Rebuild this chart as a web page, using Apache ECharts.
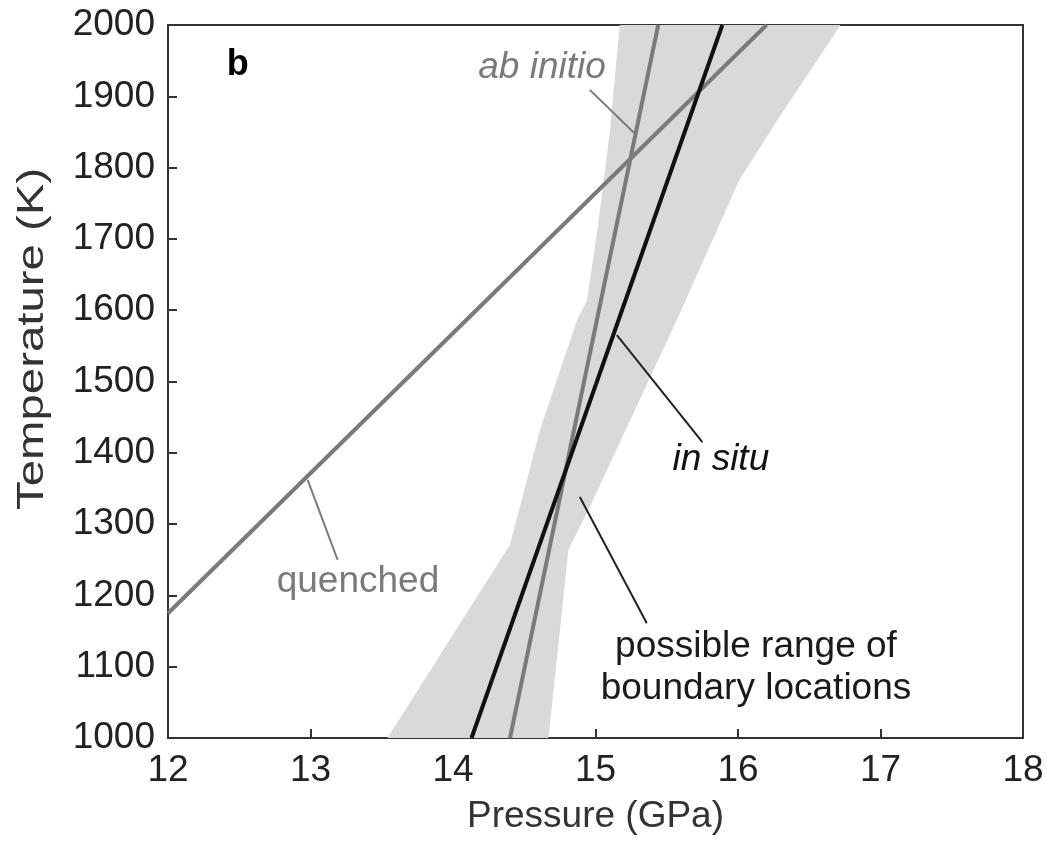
<!DOCTYPE html>
<html>
<head>
<meta charset="utf-8">
<script src="https://cdn.jsdelivr.net/npm/echarts@6/dist/echarts.min.js"></script>
<style>
html,body{margin:0;padding:0;background:#fff;}
#chart{width:1047px;height:842px;}
</style>
</head>
<body>
<div id="chart"></div>
<script>
// ---- data (pressure in GPa, temperature in K) ----
const xTicks = [12, 13, 14, 15, 16, 17, 18];
const yTicks = [1000, 1100, 1200, 1300, 1400, 1500, 1600, 1700, 1800, 1900, 2000];

const shadeLeft = [[13.54,1000],[14.40,1271],[14.61,1432],[14.87,1586],[14.94,1614],[15.01,1708],[15.10,1849],[15.17,2000]];
const shadeRight = [[14.67,1000],[14.81,1264],[14.96,1324],[15.57,1586],[16.01,1783],[16.29,1871],[16.72,2000]];

const quenched = [[12.00,1175],[16.20,2000]];
const abInitio = [[14.40,1000],[15.44,2000]];
const inSitu = [[14.13,1000],[15.89,2000]];

const calloutAbInitio = [[14.96,1909],[15.27,1849]];
const calloutInSitu = [[15.15,1565],[15.75,1415]];
const calloutQuenched = [[12.98,1362],[13.19,1250]];
const calloutRange = [[14.89,1338],[15.36,1161]];

const annotations = [
  {name: 'b', value: [12.49, 1944], color: '#000', weight: 'bold', style: 'normal', size: 36},
  {name: 'ab initio', value: [14.625, 1940], color: '#7a7a7a', weight: 'normal', style: 'italic', size: 37},
  {name: 'in situ', value: [15.88, 1390], color: '#111', weight: 'normal', style: 'italic', size: 37},
  {name: 'quenched', value: [13.333, 1219], color: '#7a7a7a', weight: 'normal', style: 'normal', size: 37},
  {name: 'possible range of\nboundary locations', value: [16.126, 1099], color: '#1a1a1a', weight: 'normal', style: 'normal', size: 37}
];

const FONT = '"Liberation Sans", Arial, Helvetica, sans-serif';
const GRAY = '#7a7a7a';
const polygonPts = shadeLeft.concat(shadeRight.slice().reverse());

const chart = echarts.init(document.getElementById('chart'));

function lineSeries(data, color, width, z) {
  return {
    type: 'line', data: data, symbol: 'none', silent: true, z: z,
    lineStyle: {color: color, width: width}, animation: false
  };
}

chart.setOption({
  animation: false,
  backgroundColor: '#fff',
  grid: {left: 168, right: 24, top: 25, bottom: 104, show: true, borderColor: '#333', borderWidth: 2, containLabel: false},
  xAxis: {
    type: 'value', min: xTicks[0], max: xTicks[xTicks.length-1], interval: 1,
    name: 'Pressure (GPa)', nameLocation: 'middle', nameGap: 60,
    nameTextStyle: {fontFamily: FONT, fontSize: 37, color: '#333'},
    axisLine: {show: true, lineStyle: {color: '#333', width: 2}},
    axisTick: {show: true, inside: true, length: 9, lineStyle: {color: '#333', width: 2}},
    axisLabel: {fontFamily: FONT, fontSize: 37, color: '#222', margin: 14},
    splitLine: {show: false}
  },
  yAxis: {
    type: 'value', min: yTicks[0], max: yTicks[yTicks.length-1], interval: 100,
    axisLine: {show: true, lineStyle: {color: '#333', width: 2}},
    axisTick: {show: true, inside: true, length: 9, lineStyle: {color: '#333', width: 2}},
    axisLabel: {fontFamily: FONT, fontSize: 37, color: '#222', margin: 13, formatter: function (v) { return String(v); }},
    splitLine: {show: false}
  },
  graphic: [{
    type: 'text', silent: true,
    x: 14, y: 510, rotation: Math.PI/2, scaleX: 1.28, scaleY: 1,
    style: {text: 'Temperature (K)', font: '37px ' + FONT, fill: '#333', textAlign: 'left', textVerticalAlign: 'top'}
  }],
  series: [
    {
      type: 'custom', coordinateSystem: 'cartesian2d', silent: true, z: 1, clip: true,
      data: [[14.5, 1500]],
      renderItem: function (params, api) {
        return {
          type: 'polygon',
          shape: {points: polygonPts.map(function (p) { return api.coord(p); })},
          style: {fill: '#d9d9d9', stroke: null}
        };
      }
    },
    lineSeries(quenched, GRAY, 4, 3),
    lineSeries(abInitio, GRAY, 4, 3),
    lineSeries(inSitu, '#111', 4, 4),
    lineSeries(calloutAbInitio, GRAY, 2, 5),
    lineSeries(calloutQuenched, GRAY, 2, 5),
    lineSeries(calloutInSitu, '#222', 2, 5),
    lineSeries(calloutRange, '#222', 2, 5),
    {
      type: 'scatter', symbolSize: 0, silent: true, z: 6,
      itemStyle: {opacity: 1},
      data: annotations.map(function (a) {
        return {
          name: a.name, value: a.value,
          itemStyle: {opacity: 1},
          label: {
            show: true, position: 'inside', formatter: a.name, opacity: 1,
            fontFamily: FONT, fontSize: a.size, lineHeight: 42,
            color: a.color, fontWeight: a.weight, fontStyle: a.style, align: 'center'
          }
        };
      })
    }
  ]
});
</script>
</body>
</html>
